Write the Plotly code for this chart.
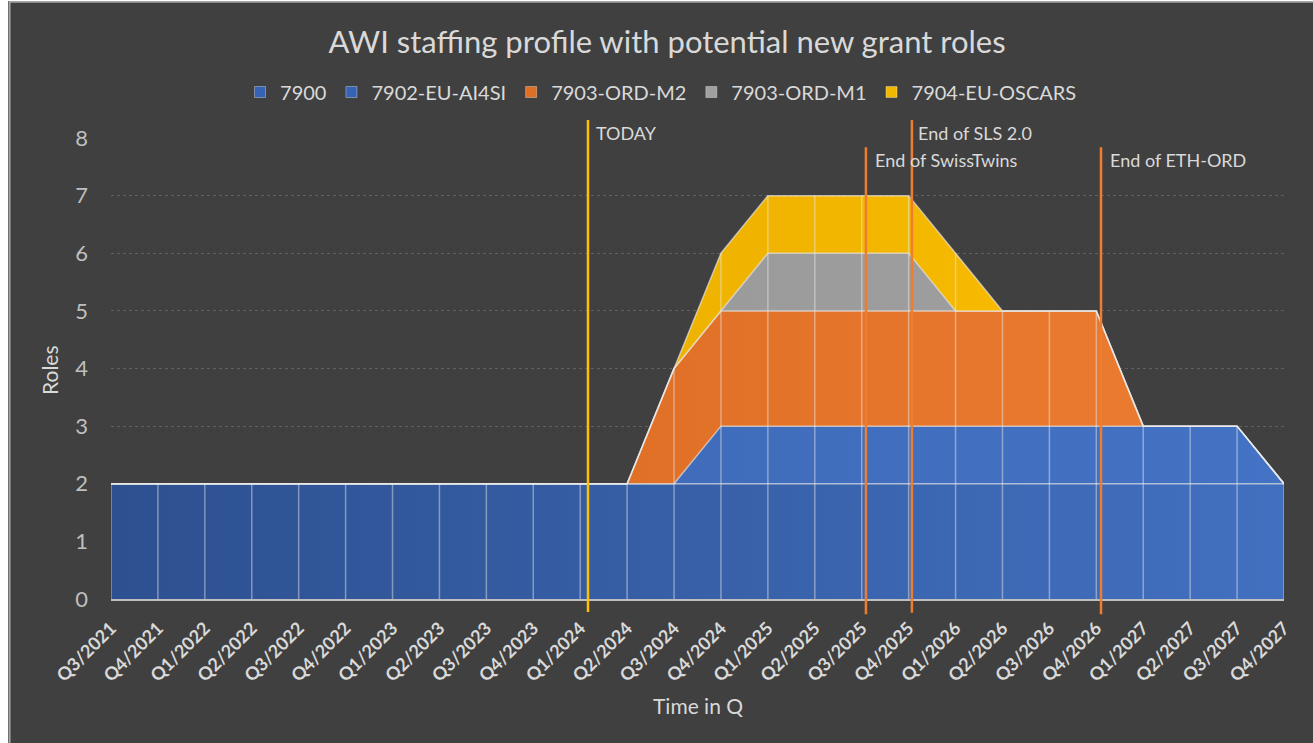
import plotly.graph_objects as go

quarters = ["Q3/2021", "Q4/2021", "Q1/2022", "Q2/2022", "Q3/2022", "Q4/2022",
            "Q1/2023", "Q2/2023", "Q3/2023", "Q4/2023", "Q1/2024", "Q2/2024",
            "Q3/2024", "Q4/2024", "Q1/2025", "Q2/2025", "Q3/2025", "Q4/2025",
            "Q1/2026", "Q2/2026", "Q3/2026", "Q4/2026", "Q1/2027", "Q2/2027",
            "Q3/2027", "Q4/2027"]

s7900 = [2, 2, 2, 2, 2, 2, 2, 2, 2, 2, 2, 2, 2, 2, 2, 2, 2, 2, 2, 2, 2, 2, 2, 2, 2, 2]
s7902_eu_ai4si = [0, 0, 0, 0, 0, 0, 0, 0, 0, 0, 0, 0, 0, 1, 1, 1, 1, 1, 1, 1, 1, 1, 1, 1, 1, 0]
s7903_ord_m2 = [0, 0, 0, 0, 0, 0, 0, 0, 0, 0, 0, 0, 2, 2, 2, 2, 2, 2, 2, 2, 2, 2, 0, 0, 0, 0]
s7903_ord_m1 = [0, 0, 0, 0, 0, 0, 0, 0, 0, 0, 0, 0, 0, 0, 1, 1, 1, 1, 0, 0, 0, 0, 0, 0, 0, 0]
s7904_eu_oscars = [0, 0, 0, 0, 0, 0, 0, 0, 0, 0, 0, 0, 0, 1, 1, 1, 1, 1, 1, 0, 0, 0, 0, 0, 0, 0]

series_names = ["7900", "7902-EU-AI4SI", "7903-ORD-M2", "7903-ORD-M1", "7904-EU-OSCARS"]
series_values = [s7900, s7902_eu_ai4si, s7903_ord_m2, s7903_ord_m1, s7904_eu_oscars]

# milestone markers (position in category-index units)
milestone_labels = ["TODAY", "End of SwissTwins", "End of SLS 2.0", "End of ETH-ORD"]
milestone_pos = [10.166, 16.09, 17.07, 21.10]

FONT = "Lato"
BG = "#404040"
TXT = "#d9d9d9"

grad = {
    "7900": [[0, "#2D5090"], [1, "#4270C0"]],
    "7902-EU-AI4SI": [[0, "#3B66B2"], [1, "#4472C4"]],
    "7903-ORD-M2": [[0, "#D5661F"], [1, "#ED7D31"]],
    "7903-ORD-M1": [[0, "#969696"], [1, "#A0A0A0"]],
    "7904-EU-OSCARS": [[0, "#DEA600"], [1, "#FFC000"]],
}
solid = {"7900": "#3A62AA", "7902-EU-AI4SI": "#4472C4", "7903-ORD-M2": "#E3742B",
         "7903-ORD-M1": "#9B9B9B", "7904-EU-OSCARS": "#F0B400"}
legend_col = {"7900": "#3763B5", "7902-EU-AI4SI": "#3763B5", "7903-ORD-M2": "#E06E24",
              "7903-ORD-M1": "#A0A0A0", "7904-EU-OSCARS": "#F2B800"}

fig = go.Figure()
for name, vals in zip(series_names, series_values):
    fig.add_trace(go.Scatter(
        x=quarters, y=vals, name=name, stackgroup="one", mode="lines",
        line=dict(color="rgba(235,235,235,0.65)", width=1.5),
        fillcolor=solid[name],
        fillgradient=dict(type="horizontal", colorscale=grad[name]),
        legendgroup=name, showlegend=False,
        hoverinfo="x+y+name",
    ))

# drop lines from axis to stack top at every category
totals = [sum(v[i] for v in series_values) for i in range(len(quarters))]
dx, dy = [], []
for q, t in zip(quarters, totals):
    dx += [q, q, None]
    dy += [0, t, None]
fig.add_trace(go.Scatter(x=dx, y=dy, mode="lines", showlegend=False, hoverinfo="skip",
                         line=dict(color="rgba(235,235,235,0.45)", width=1.5)))

# legend entries (square swatches like the original)
for name in series_names:
    fig.add_trace(go.Scatter(
        x=[None], y=[None], mode="markers", name=name, legendgroup=name,
        marker=dict(symbol="square", size=11, color=legend_col[name],
                    line=dict(color="rgba(255,255,255,0.35)", width=1)),
        showlegend=True,
    ))

shapes = []
annotations = []
tops = [1.039, 0.980, 1.039, 0.980]
bottoms = [-0.028, -0.033, -0.030, -0.033]
colors = ["#FFC000", "#ED7D31", "#ED7D31", "#ED7D31"]
label_y = [1.011, 0.952, 1.011, 0.952]
shifts = [6, 7, 4, 7]
for lab, pos, t, b, c, ly, sh in zip(milestone_labels, milestone_pos, tops, bottoms,
                                      colors, label_y, shifts):
    shapes.append(dict(type="line", xref="x", yref="paper", x0=pos, x1=pos, y0=b, y1=t,
                       line=dict(color=c, width=2.5), layer="above"))
    annotations.append(dict(text=lab, xref="x", yref="paper", x=pos, y=ly, xshift=sh,
                            xanchor="left", yanchor="middle", showarrow=False,
                            font=dict(family=FONT, size=18, color=TXT)))

# chart border (left and top edge)
shapes.append(dict(type="line", xref="paper", yref="paper", x0=-0.0865, x1=-0.0865,
                   y0=-0.4, y1=1.3, line=dict(color="#a6a6a6", width=2)))
shapes.append(dict(type="line", xref="paper", yref="paper", x0=-0.0865, x1=1.1,
                   y0=1.2954, y1=1.2954, line=dict(color="#a6a6a6", width=2)))

annotations.append(dict(text="Roles", xref="paper", yref="paper", x=-0.0519, y=0.497,
                        textangle=-90, showarrow=False, xanchor="center", yanchor="middle",
                        font=dict(family=FONT, size=21, color=TXT)))
annotations.append(dict(text="Time in Q", xref="paper", yref="paper", x=0.5, y=-0.232,
                        showarrow=False, xanchor="center", yanchor="middle",
                        font=dict(family=FONT, size=21, color=TXT)))

fig.update_layout(
    width=1305, height=742,
    paper_bgcolor=BG, plot_bgcolor=BG,
    margin=dict(l=103, r=29, t=137, b=144),
    title=dict(text="AWI staffing profile with potential new grant roles",
               x=0.505, xanchor="center", y=0.9447, yanchor="middle",
               font=dict(family=FONT, size=31, color=TXT)),
    legend=dict(orientation="h", x=0.110, xanchor="left", y=1.0998, yanchor="middle",
                font=dict(family=FONT, size=20, color=TXT), bgcolor="rgba(0,0,0,0)",
                itemwidth=30, traceorder="normal"),
    xaxis=dict(type="category", range=[0, 25], tickangle=-45, showgrid=False,
               showline=True, linecolor="#bfbfbf", linewidth=1.5, ticks="",
               tickfont=dict(family=FONT, size=18, color=TXT, weight="bold"),
               zeroline=False, ticklabelstandoff=10),
    yaxis=dict(range=[0, 8], dtick=1, showgrid=True, gridcolor="#606060",
               griddash="dot", gridwidth=1, zeroline=False, showline=False,
               tickfont=dict(family=FONT, size=22, color="#bfbfbf"), ticks="",
               ticklabelstandoff=22),
    shapes=shapes, annotations=annotations,
    showlegend=True,
)

fig.write_html("out.html", post_script="document.body.style.margin='1px 0 0 8px';")
